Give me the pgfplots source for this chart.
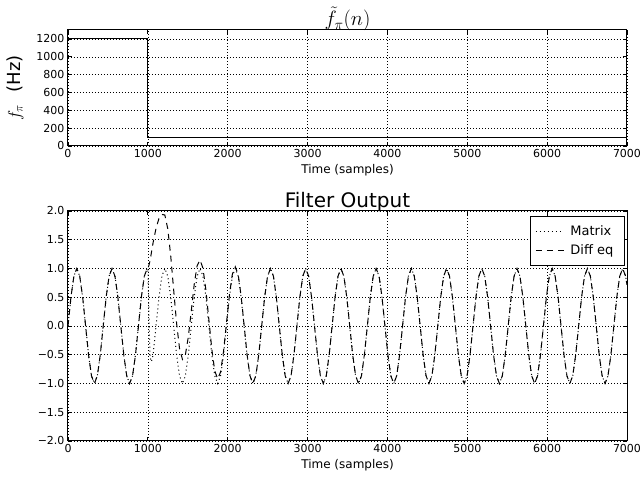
\documentclass[border=0pt]{standalone}
\usepackage{fontspec}
\setmainfont{DejaVu Sans}
\usepackage{pgfplots}
\usepackage{pgfplotstable}
\pgfplotsset{compat=1.18}

% filter output: n, matrix, diff eq
\pgfplotstableread{
n m d
0 0 0
36.75 0.5 0.5
73.5 0.866 0.866
110.25 1 1
147 0.866 0.866
183.75 0.5 0.5
220.5 0 0
257.25 -0.5 -0.5
294 -0.866 -0.866
330.75 -1 -1
367.5 -0.866 -0.866
404.25 -0.5 -0.5
441 0 0
477.75 0.5 0.5
514.5 0.866 0.866
551.25 1 1
588 0.866 0.866
624.75 0.5 0.5
661.5 0 0
698.25 -0.5 -0.5
735 -0.866 -0.866
771.75 -1 -1
808.5 -0.866 -0.866
845.25 -0.5 -0.5
882 0 0
918.75 0.5 0.5
955.5 0.866 0.866
992.25 1 1
1000 0.994 0.994
1010 0.45 1.04
1020 -0.2 1.09
1029 -0.55 1.15
1045 -0.62 1.28
1065.75 -0.5 1.45
1102.5 0 1.70
1139.25 0.5 1.87
1176 0.866 1.94
1212.75 1 1.93
1249.5 0.866 1.69
1286.25 0.5 1.22
1323 0 0.63
1359.75 -0.5 0.05
1396.5 -0.866 -0.39
1433.25 -1 -0.58
1470 -0.866 -0.50
1506.75 -0.5 -0.19
1543.5 0 0.26
1580.25 0.5 0.72
1617 0.866 1.05
1653.75 1 1.15
1690.5 0.866 1.00
1727.25 0.5 0.62
1764 0 0.11
1800.75 -0.5 -0.40
1837.5 -0.866 -0.78
1874.25 -1 -0.92
1911 -0.866 -0.80
1947.75 -0.5 -0.44
1984.5 0 0.05
2021.25 0.5 0.54
2058 0.866 0.90
2094.75 1 1.03
2131.5 0.866 0.89
2168.25 0.5 0.52
2205 0 0.015
2241.75 -0.5 -0.49
2278.5 -0.866 -0.866
2315.25 -1 -1
2352 -0.866 -0.866
2388.75 -0.5 -0.5
2425.5 0 0
2462.25 0.5 0.5
2499 0.866 0.866
2535.75 1 1
2572.5 0.866 0.866
2609.25 0.5 0.5
2646 0 0
2682.75 -0.5 -0.5
2719.5 -0.866 -0.866
2756.25 -1 -1
2793 -0.866 -0.866
2829.75 -0.5 -0.5
2866.5 0 0
2903.25 0.5 0.5
2940 0.866 0.866
2976.75 1 1
3013.5 0.866 0.866
3050.25 0.5 0.5
3087 0 0
3123.75 -0.5 -0.5
3160.5 -0.866 -0.866
3197.25 -1 -1
3234 -0.866 -0.866
3270.75 -0.5 -0.5
3307.5 0 0
3344.25 0.5 0.5
3381 0.866 0.866
3417.75 1 1
3454.5 0.866 0.866
3491.25 0.5 0.5
3528 0 0
3564.75 -0.5 -0.5
3601.5 -0.866 -0.866
3638.25 -1 -1
3675 -0.866 -0.866
3711.75 -0.5 -0.5
3748.5 0 0
3785.25 0.5 0.5
3822 0.866 0.866
3858.75 1 1
3895.5 0.866 0.866
3932.25 0.5 0.5
3969 0 0
4005.75 -0.5 -0.5
4042.5 -0.866 -0.866
4079.25 -1 -1
4116 -0.866 -0.866
4152.75 -0.5 -0.5
4189.5 0 0
4226.25 0.5 0.5
4263 0.866 0.866
4299.75 1 1
4336.5 0.866 0.866
4373.25 0.5 0.5
4410 0 0
4446.75 -0.5 -0.5
4483.5 -0.866 -0.866
4520.25 -1 -1
4557 -0.866 -0.866
4593.75 -0.5 -0.5
4630.5 0 0
4667.25 0.5 0.5
4704 0.866 0.866
4740.75 1 1
4777.5 0.866 0.866
4814.25 0.5 0.5
4851 0 0
4887.75 -0.5 -0.5
4924.5 -0.866 -0.866
4961.25 -1 -1
4998 -0.866 -0.866
5034.75 -0.5 -0.5
5071.5 0 0
5108.25 0.5 0.5
5145 0.866 0.866
5181.75 1 1
5218.5 0.866 0.866
5255.25 0.5 0.5
5292 0 0
5328.75 -0.5 -0.5
5365.5 -0.866 -0.866
5402.25 -1 -1
5439 -0.866 -0.866
5475.75 -0.5 -0.5
5512.5 0 0
5549.25 0.5 0.5
5586 0.866 0.866
5622.75 1 1
5659.5 0.866 0.866
5696.25 0.5 0.5
5733 0 0
5769.75 -0.5 -0.5
5806.5 -0.866 -0.866
5843.25 -1 -1
5880 -0.866 -0.866
5916.75 -0.5 -0.5
5953.5 0 0
5990.25 0.5 0.5
6027 0.866 0.866
6063.75 1 1
6100.5 0.866 0.866
6137.25 0.5 0.5
6174 0 0
6210.75 -0.5 -0.5
6247.5 -0.866 -0.866
6284.25 -1 -1
6321 -0.866 -0.866
6357.75 -0.5 -0.5
6394.5 0 0
6431.25 0.5 0.5
6468 0.866 0.866
6504.75 1 1
6541.5 0.866 0.866
6578.25 0.5 0.5
6615 0 0
6651.75 -0.5 -0.5
6688.5 -0.866 -0.866
6725.25 -1 -1
6762 -0.866 -0.866
6798.75 -0.5 -0.5
6835.5 0 0
6872.25 0.5 0.5
6909 0.866 0.866
6945.75 1 1
6982.5 0.866 0.866
7000 0.716 0.716
}\filterdata

\pgfplotsset{
  panel/.style={
    scale only axis, width=559pt,
    xmin=0, xmax=7000, xtick={0,1000,...,7000},
    /pgf/number format/1000 sep={},
    /pgf/number format/assume math mode=true,
    grid=major,
    major grid style={black, line width=0.5pt, dash pattern=on 1pt off 2pt},
    axis line style={black, line width=1pt},
    tick style={black, line width=0.8pt},
    major tick length=4pt,
    tick label style={font=\fontsize{11}{13}\selectfont},
    xlabel={Time (samples)},
    xlabel style={font=\fontsize{12}{14}\selectfont,
      at={(axis description cs:0.5,0)}, anchor=center, yshift=-24pt},
    title style={font=\fontsize{20}{24}\selectfont,
      at={(axis description cs:0.5,1)}, anchor=center},
  }
}

\begin{document}
\begin{tikzpicture}
\begin{axis}[panel, name=top,
    at={(0pt,295pt)}, anchor=south west, height=116pt,
    ymin=0, ymax=1300, ytick={0,200,...,1200},
    title={$\tilde{f}_{\pi}(n)$}, title style={yshift=5pt},
    ylabel={$f_{\pi}$\hspace{0.7em}(Hz)},
    ylabel style={font=\fontsize{18}{22}\selectfont,
      at={(axis description cs:-0.095,0.5)}, anchor=center},
]
\addplot[black, line width=1pt] coordinates {
  (0,1200) (1000,1200) (1000,100) (7000,100)
};
\end{axis}

\begin{axis}[panel, name=bottom,
    at={(0pt,0pt)}, anchor=south west, height=230pt,
    ymin=-2, ymax=2, ytick={-2,-1.5,...,2},
    yticklabels={−2.0,−1.5,−1.0,−0.5,0.0,0.5,1.0,1.5,2.0},
    title={Filter Output}, title style={yshift=3pt},
    legend style={at={(0.996,0.978)}, anchor=north east, draw=black,
      line width=0.8pt, font=\fontsize{13}{15}\selectfont,
      inner xsep=5pt, inner ysep=7pt, row sep=4pt,
      nodes={inner xsep=6pt}},
    legend cell align=left,
    legend image code/.code={%
      \path (0pt,0pt) -- (28pt,0pt);
      \draw[#1] (0pt,0pt) -- (20pt,0pt);},
]
\addplot[black, line width=1pt, dash pattern=on 1pt off 3pt]
  table[x=n, y=m] {\filterdata};
\addlegendentry{Matrix}
\addplot[black, line width=1pt, dash pattern=on 6pt off 5pt]
  table[x=n, y=d] {\filterdata};
\addlegendentry{Diff eq}
\end{axis}

\pgfresetboundingbox
\path[use as bounding box] (-68pt,-37pt) rectangle (573pt,441pt);
\end{tikzpicture}
\end{document}
